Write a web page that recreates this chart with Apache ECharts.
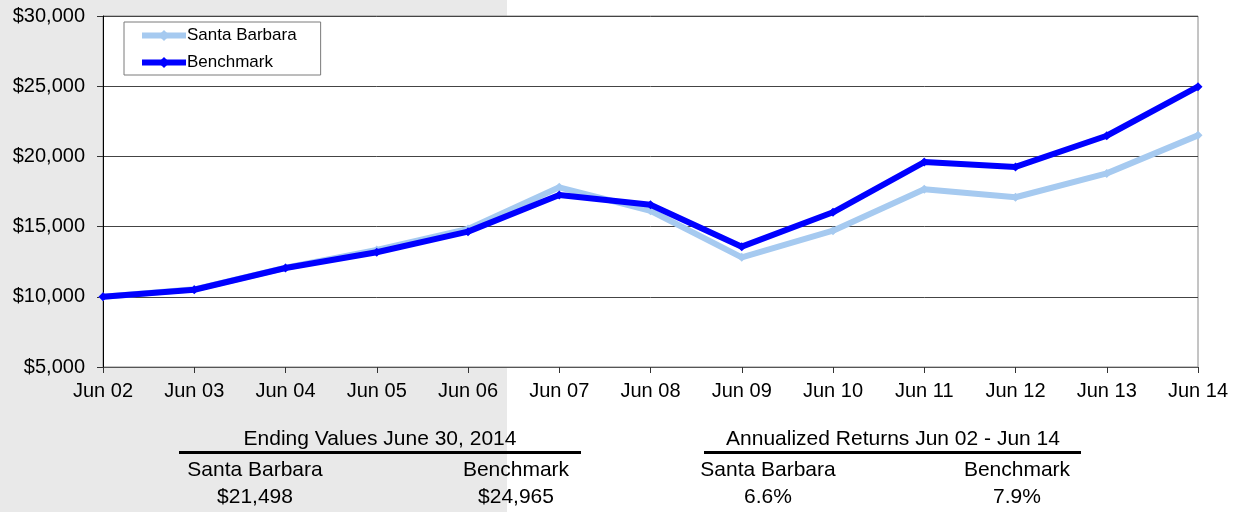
<!DOCTYPE html>
<html>
<head>
<meta charset="utf-8">
<script src="https://cdn.jsdelivr.net/npm/echarts@6/dist/echarts.min.js"></script>
<style>
  html, body { margin: 0; padding: 0; }
  body { width: 1242px; height: 512px; background: linear-gradient(to right, #e9e9e9 0px, #e9e9e9 507px, #ffffff 507px, #ffffff 1242px); }
  #chart { width: 1242px; height: 512px; }
</style>
</head>
<body>
<div id="chart"></div>
<script>
const categories = ['Jun 02','Jun 03','Jun 04','Jun 05','Jun 06','Jun 07','Jun 08','Jun 09','Jun 10','Jun 11','Jun 12','Jun 13','Jun 14'];
const santaBarbara = [10000, 10530, 12070, 13330, 14830, 17800, 16130, 12810, 14710, 17660, 17090, 18790, 21498];
const benchmark = [10000, 10500, 12050, 13170, 14640, 17250, 16560, 13570, 16020, 19600, 19250, 21470, 24965];
const seriesNames = ['Santa Barbara', 'Benchmark'];
const yMin = 5000, yMax = 30000, yStep = 5000;

const endingTitle = 'Ending Values June 30, 2014';
const endingValues = ['$21,498', '$24,965'];
const returnsTitle = 'Annualized Returns Jun 02 - Jun 14';
const returnsValues = ['6.6%', '7.9%'];

const FONT = '"Liberation Sans", Arial, sans-serif';
const chart = echarts.init(document.getElementById('chart'), null, { renderer: 'canvas' });

function txt(text, x, y, size) {
  return { type: 'text', x: x, y: y, silent: true,
    style: { text: text, fill: '#000', font: size + 'px ' + FONT, textAlign: 'center', textVerticalAlign: 'middle' } };
}
function uline(x1, x2, y) {
  return { type: 'line', silent: true, shape: { x1: x1, y1: y, x2: x2, y2: y }, style: { stroke: '#000', lineWidth: 3 } };
}

const option = {
  backgroundColor: 'transparent',
  animation: false,
  grid: { left: 103, right: 44, top: 16, bottom: 145, show: true, backgroundColor: '#ffffff', borderColor: '#8a8a8a', borderWidth: 1, containLabel: false },
  legend: {
    orient: 'vertical', left: 124, top: 22,
    data: seriesNames,
    backgroundColor: '#ffffff', borderColor: '#7a7a7a', borderWidth: 1,
    padding: [5, 24, 4, 15],
    itemWidth: 44, itemHeight: 14, itemGap: 10,
    lineStyle: { width: 6 },
    itemStyle: { borderWidth: 0 },
    textStyle: { fontFamily: FONT, fontSize: 17, color: '#000', lineHeight: 17, padding: [0, 0, 0, -4] }
  },
  xAxis: {
    type: 'category', data: categories, boundaryGap: false,
    axisLine: { lineStyle: { color: '#555', width: 1 } },
    axisTick: { show: true, length: 6, lineStyle: { color: '#333' } },
    axisLabel: { color: '#000', fontFamily: FONT, fontSize: 20, margin: 14 },
    splitLine: { show: false }
  },
  yAxis: {
    type: 'value', min: yMin, max: yMax, interval: yStep,
    axisLine: { show: true, lineStyle: { color: '#000', width: 1 } },
    axisTick: { show: true, length: 6, lineStyle: { color: '#333' } },
    axisLabel: { color: '#000', fontFamily: FONT, fontSize: 20, margin: 18,
      formatter: v => '$' + v.toLocaleString('en-US') },
    splitLine: { show: true, lineStyle: { color: '#444', width: 1 } }
  },
  series: [
    { name: seriesNames[0], type: 'line', data: santaBarbara, symbol: 'diamond', symbolSize: 9,
      lineStyle: { color: '#a6caf0', width: 6 }, itemStyle: { color: '#a6caf0' }, z: 2 },
    { name: seriesNames[1], type: 'line', data: benchmark, symbol: 'diamond', symbolSize: 9,
      lineStyle: { color: '#0000ff', width: 6 }, itemStyle: { color: '#0000ff' }, z: 3 }
  ],
  graphic: [
    txt(endingTitle, 380, 439, 21),
    uline(179, 581, 452.5),
    txt(seriesNames[0], 255, 470, 21),
    txt(seriesNames[1], 516, 470, 21),
    txt(endingValues[0], 255, 497, 21),
    txt(endingValues[1], 516, 497, 21),
    txt(returnsTitle, 893, 439, 21),
    uline(704, 1081, 452.5),
    txt(seriesNames[0], 768, 470, 21),
    txt(seriesNames[1], 1017, 470, 21),
    txt(returnsValues[0], 768, 497, 21),
    txt(returnsValues[1], 1017, 497, 21)
  ]
};
chart.setOption(option);
</script>
</body>
</html>
